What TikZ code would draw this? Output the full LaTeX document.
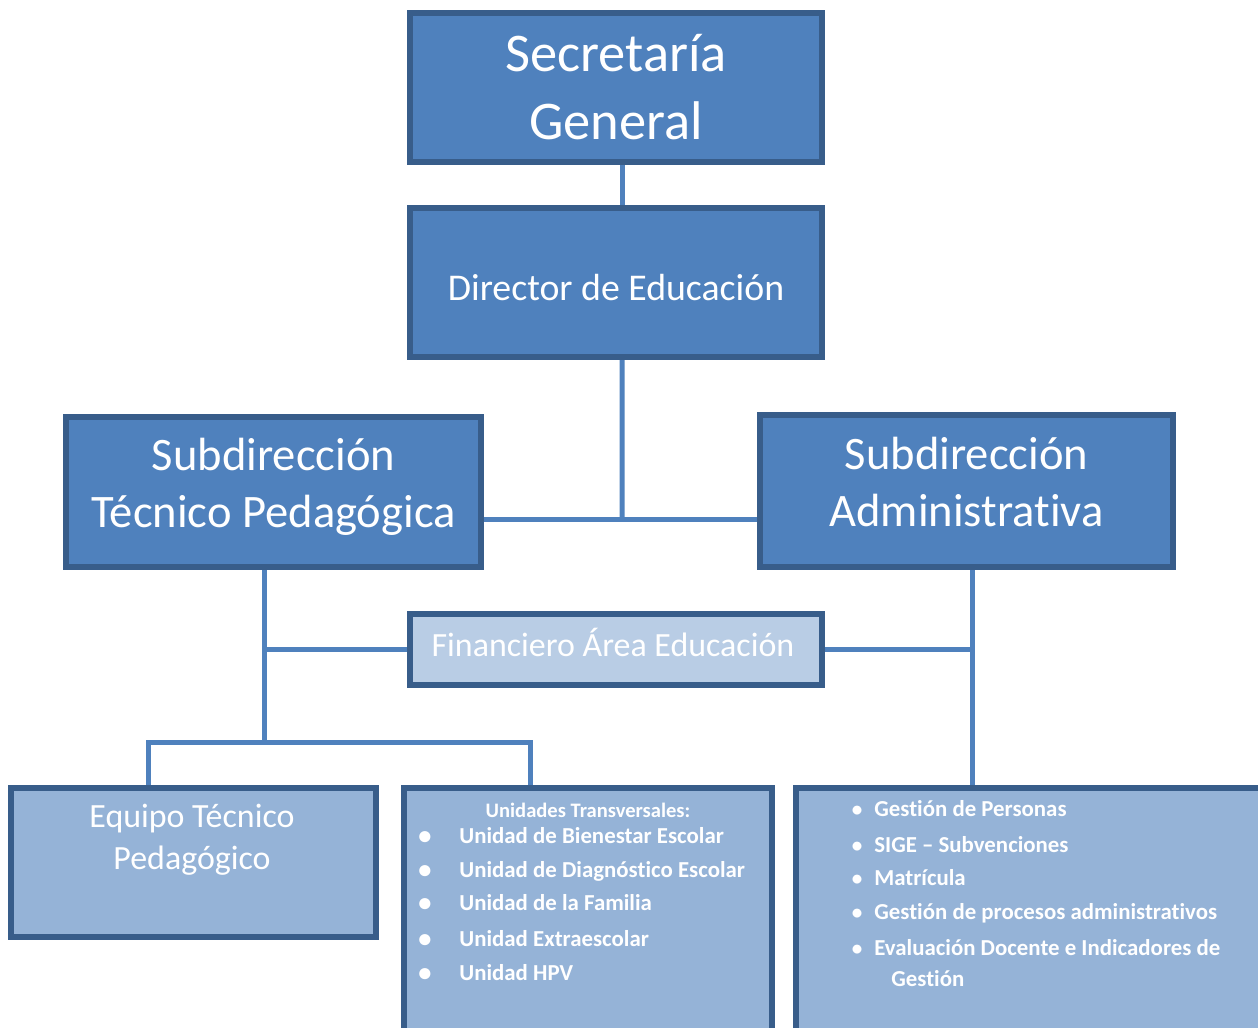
\documentclass[tikz,border=0pt]{standalone}
\usepackage{fontspec}
\setmainfont{Carlito}[RawFeature={-liga;-clig;-dlig;-calt}]
\usetikzlibrary{positioning}

\begin{document}
\begin{tikzpicture}[
  box/.style={draw=box_border_color, line width=0.12cm, inner sep=0pt, text=white, align=center},
  dark_box/.style={box, fill=dark_box_color},
  mid_box/.style={box, fill=mid_box_color},
  light_box/.style={box, fill=light_box_color},
  link/.style={draw=link_color, line width=0.1cm},
  item/.style={anchor=west, text=white, inner sep=0pt, text height=1.6ex, text depth=.4ex, font=\fontsize{13}{15}\selectfont\bfseries},
  dot/.style={text=white, inner sep=0pt, font=\fontsize{15}{15}\selectfont\bfseries}
]
\definecolor{dark_box_color}{RGB}{79,129,189}
\definecolor{mid_box_color}{RGB}{149,179,215}
\definecolor{light_box_color}{RGB}{185,205,229}
\definecolor{box_border_color}{RGB}{56,93,138}
\definecolor{link_color}{RGB}{79,129,189}

\useasboundingbox (0,0) rectangle (25.16,-20.54);
\clip (0,0) rectangle (25.16,-20.54);

% top of the chart
\node[dark_box, minimum width=8.24cm, minimum height=2.98cm, font=\fontsize{31}{38.7}\selectfont] (secretaria) at (12.32,-1.75) {Secretaría\\General};
\node[dark_box, minimum width=8.24cm, minimum height=2.98cm, font=\fontsize{21.5}{26}\selectfont] (director) at (12.32,-5.65) {\raisebox{-0.1cm}[\height][\depth]{Director de Educación}};

% subdirecciones
\node[dark_box, minimum width=8.30cm, minimum height=3.00cm, font=\fontsize{26.5}{32.4}\selectfont] (sub_tecnica) at (5.47,-9.84) {\raisebox{0.08cm}[\height][\depth]{\begin{tabular}{@{}c@{}}Subdirección\\Técnico Pedagógica\end{tabular}}};
\node[dark_box, minimum width=8.26cm, minimum height=3.04cm, font=\fontsize{26.5}{32.4}\selectfont] (sub_admin) at (19.33,-9.82) {\raisebox{0.08cm}[\height][\depth]{\begin{tabular}{@{}c@{}}Subdirección\\Administrativa\end{tabular}}};

\node[light_box, minimum width=8.24cm, minimum height=1.42cm, font=\fontsize{19.3}{24}\selectfont] (financiero) at (12.32,-12.99) {\raisebox{0.14cm}[\height][\depth]{Financiero Área Educación}\hspace{0.12cm}};

% bottom boxes
\node[mid_box, minimum width=7.30cm, minimum height=2.98cm] (equipo) at (3.87,-17.25) {};
\node[text=white, align=center, font=\fontsize{19.3}{24}\selectfont] (equipo_txt) at (3.84,-16.80) {Equipo Técnico\\Pedagógico};

\node[mid_box, minimum width=7.36cm, minimum height=5.14cm] (unidades) at (11.76,-18.33) {};
\node[mid_box, minimum width=9.48cm, minimum height=5.14cm] (gestion) at (20.66,-18.33) {};

% connectors
\coordinate (top_join) at (12.44,-10.38);
\coordinate (left_join) at (5.28,-14.90);
\coordinate (right_join) at (19.44,-12.99);

\draw[link] ([xshift=0.12cm]secretaria.south) -- ([xshift=0.12cm]director.north);
\draw[link] ([xshift=0.12cm]director.south) -- (top_join);
\draw[link] (sub_tecnica.east |- top_join) -- (sub_admin.west |- top_join);

\draw[link] (sub_tecnica.south -| left_join) -- (left_join);
\draw[link] (left_join |- financiero.west) -- (financiero.west);
\draw[link] (financiero.east) -- (right_join);
\draw[link] (sub_admin.south -| right_join) -- (gestion.north -| right_join);

\draw[link] ([xshift=-0.91cm]equipo.north) -- ++(0,0.86) -| ([xshift=-1.16cm]unidades.north);

% unidades transversales
\node[text=white, inner sep=0pt, font=\fontsize{11.7}{14}\selectfont\bfseries] (unidades_title) at (11.76,-16.20) {Unidades Transversales:};
\foreach \y/\txt [count=\i] in {-16.76/Unidad de Bienestar Escolar, -17.44/Unidad de Diagnóstico Escolar, -18.10/Unidad de la Familia, -18.82/Unidad Extraescolar, -19.50/Unidad HPV}
{
  \node[dot] (unidades_dot\i) at (8.50,\y) {•};
  \node[item] (unidades_item\i) at (9.18,\y) {\txt};
}

% gestion administrativa
\foreach \y/\txt [count=\i] in {-16.22/Gestión de Personas, -16.94/SIGE – Subvenciones, -17.60/Matrícula, -18.28/Gestión de procesos administrativos, -19.00/Evaluación Docente e Indicadores de}
{
  \node[dot, font=\fontsize{12}{12}\selectfont\bfseries] (gestion_dot\i) at (17.14,\y) {•};
  \node[item] (gestion_item\i) at (17.48,\y) {\txt};
}
\node[item] (gestion_item6) at (17.82,-19.62) {Gestión};

\end{tikzpicture}
\end{document}
